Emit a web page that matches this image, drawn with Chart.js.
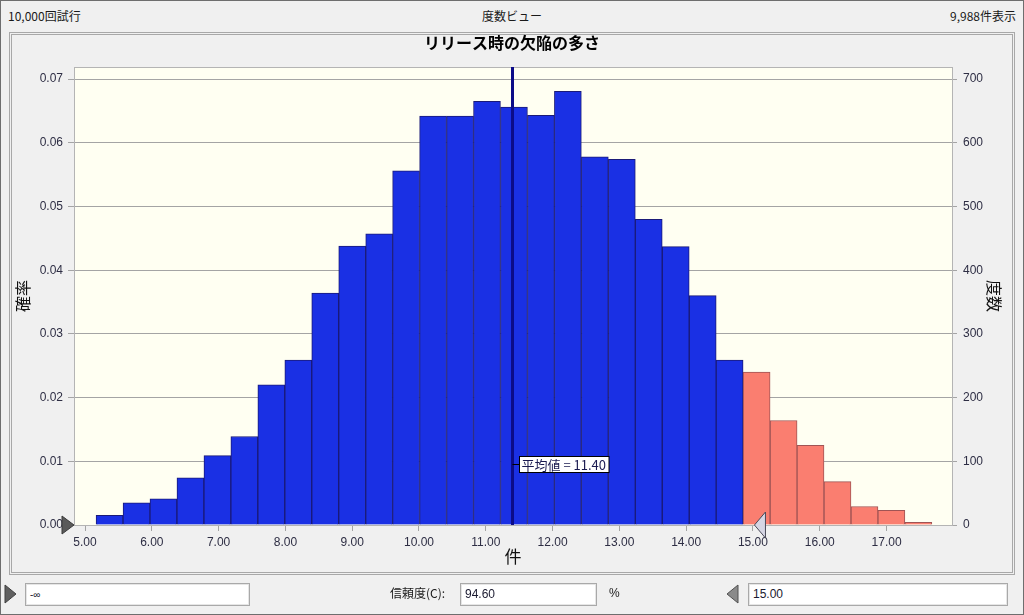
<!DOCTYPE html>
<html><head><meta charset="utf-8">
<script src="https://cdn.jsdelivr.net/npm/chart.js@4.4.1/dist/chart.umd.min.js"></script>
<style>
html,body{margin:0;padding:0;}
body{width:1024px;height:615px;overflow:hidden;background:#f0f0f0;position:relative;font-family:"Noto Sans CJK JP","Noto Sans",sans-serif;color:#1a1a1a;}
#win{position:absolute;left:0;top:0;width:1024px;height:615px;box-sizing:border-box;border:1px solid #6e6e6e;}
.t{position:absolute;font-size:12px;line-height:14px;white-space:nowrap;}
#frame{position:absolute;left:9px;top:32px;width:1006px;height:543px;box-sizing:border-box;border:3px double #a8a8a8;}
canvas{position:absolute;left:0;top:0;}
.box{position:absolute;height:23px;box-sizing:border-box;background:#fff;border:1px solid #a9a9a9;box-shadow:inset 0 0 0 1px #e6e6e6;font-size:12px;line-height:21px;padding-left:4px;font-family:"Liberation Sans",sans-serif;color:#1a1a30;}
svg{position:absolute;}
</style></head>
<body>
<div id="win"></div>
<div class="t" id="tl" style="left:8px;top:9px;"></div>
<div class="t" id="tc" style="left:0;width:1024px;text-align:center;top:9px;"></div>
<div class="t" id="tr" style="right:8px;top:9px;"></div>
<div id="frame"></div>
<canvas id="c" width="1024" height="615"></canvas>
<svg style="left:4px;top:584px" width="14" height="21"><polygon points="1,1 12,10 1,19" fill="#606060" stroke="#404040"/></svg>
<div class="box" id="bLow" style="left:25px;top:583px;width:225px;font-size:10px;"></div>
<div class="t" id="lblC" style="left:390px;top:586px;"></div>
<div class="box" id="bCert" style="left:460px;top:583px;width:137px;"></div>
<div class="t" style="left:609px;top:586px;font-family:'Liberation Sans',sans-serif;">%</div>
<svg style="left:726px;top:584px" width="14" height="21"><polygon points="12,1 1,10 12,19" fill="#8a8a8a" stroke="#505050"/></svg>
<div class="box" id="bHigh" style="left:748px;top:583px;width:260px;"></div>
<script>
// ---- data ----
const chartTitle = 'リリース時の欠陥の多さ';
const trialsText = '10,000回試行';
const viewText = '度数ビュー';
const shownText = '9,988件表示';
const xAxisTitle = '件';
const yLeftTitle = '確率';
const yRightTitle = '度数';
const binCenters = [5.367, 5.771, 6.174, 6.578, 6.982, 7.385, 7.789, 8.193, 8.596, 9.000,
  9.404, 9.807, 10.211, 10.615, 11.018, 11.422, 11.826, 12.229, 12.633, 13.037,
  13.440, 13.844, 14.248, 14.651, 15.055, 15.459, 15.862, 16.266, 16.670, 17.073, 17.477];
const probabilities = [0.0015, 0.0035, 0.0041, 0.0074, 0.0109, 0.0139, 0.0220, 0.0259, 0.0364, 0.0438,
  0.0457, 0.0556, 0.0642, 0.0642, 0.0665, 0.0656, 0.0643, 0.0681, 0.0578, 0.0574,
  0.0480, 0.0437, 0.0360, 0.0259, 0.0240, 0.0164, 0.0125, 0.0068, 0.0029, 0.0023, 0.0004];
const xTicks = [5, 6, 7, 8, 9, 10, 11, 12, 13, 14, 15, 16, 17];
const probTicks = [0, 0.01, 0.02, 0.03, 0.04, 0.05, 0.06, 0.07];
const countTicks = [0, 100, 200, 300, 400, 500, 600, 700];
const meanValue = 11.40;
const lowerBoundText = '-∞';
const upperBound = 15.00;
const certainty = 94.60;
const certaintyLabel = '信頼度(C):';

// ---- chrome text ----
document.getElementById('tl').textContent = trialsText;
document.getElementById('tc').textContent = viewText;
document.getElementById('tr').textContent = shownText;
document.getElementById('bLow').textContent = lowerBoundText;
document.getElementById('lblC').textContent = certaintyLabel;
document.getElementById('bCert').textContent = certainty.toFixed(2);
document.getElementById('bHigh').textContent = upperBound.toFixed(2);

const BLUE = '#1a30e4', BLUE_B = '#1a1a78', RED = '#fa7e70', RED_B = '#a05454';
const tickFont = {family: "'Liberation Sans', sans-serif", size: 12};
const tickColor = '#2e2e44';
const gridColor = '#a4a4a4';
const cjk = "'Noto Sans CJK JP', sans-serif";

const decor = {
  id: 'decor',
  beforeDraw(chart) {
    const {ctx, chartArea: a} = chart;
    ctx.save();
    ctx.fillStyle = '#fffff2';
    ctx.fillRect(a.left, a.top, a.right - a.left, a.bottom - a.top);
    ctx.restore();
  },
  afterDatasetsDraw(chart) {
    const {ctx, chartArea: a, scales} = chart;
    const xs = scales.x, ys = scales.y;
    ctx.save();
    // plot border
    ctx.strokeStyle = '#b4b4b4';
    ctx.lineWidth = 1;
    ctx.strokeRect(Math.round(a.left) + 0.5, Math.round(a.top) + 0.5, Math.round(a.right - a.left), Math.round(a.bottom - a.top));
    // mean line
    const mx = xs.getPixelForValue(meanValue);
    ctx.strokeStyle = '#0c0c88';
    ctx.lineWidth = 3;
    ctx.beginPath(); ctx.moveTo(mx, a.top); ctx.lineTo(mx, a.bottom); ctx.stroke();
    // mean label
    const ly = Math.round(ys.getPixelForValue(0.0095)) + 0.5;
    const label = '平均値 = ' + meanValue.toFixed(2);
    ctx.font = "13px " + cjk;
    const w = ctx.measureText(label).width + 5;
    const bx = Math.round(mx + 7) + 0.5;
    ctx.strokeStyle = '#000'; ctx.lineWidth = 1;
    ctx.beginPath(); ctx.moveTo(mx, ly); ctx.lineTo(bx, ly); ctx.stroke();
    ctx.fillStyle = '#ffffff';
    ctx.fillRect(bx, ly - 8, w, 16);
    ctx.strokeRect(bx, ly - 8, w, 16);
    ctx.fillStyle = '#1a1a50';
    ctx.textBaseline = 'middle';
    ctx.fillText(label, bx + 2, ly + 0.5);
    // left handle
    const by = a.bottom;
    ctx.fillStyle = '#5a5a5a'; ctx.strokeStyle = '#3a3a3a';
    ctx.beginPath(); ctx.moveTo(a.left - 12, by - 9); ctx.lineTo(a.left, by); ctx.lineTo(a.left - 12, by + 9); ctx.closePath();
    ctx.fill(); ctx.stroke();
    // right handle
    const hx = xs.getPixelForValue(upperBound) + 1.5;
    ctx.fillStyle = '#d6d6e4'; ctx.strokeStyle = '#4a4a58';
    ctx.beginPath(); ctx.moveTo(hx + 11, by - 13); ctx.lineTo(hx, by); ctx.lineTo(hx + 11, by + 13); ctx.closePath();
    ctx.fill(); ctx.stroke();
    ctx.restore();
  }
};

new Chart(document.getElementById('c'), {
  type: 'bar',
  data: {
    datasets: [{
      data: binCenters.map((x, i) => ({x: x, y: probabilities[i]})),
      backgroundColor: binCenters.map(x => x >= upperBound ? RED : BLUE),
      borderColor: binCenters.map(x => x >= upperBound ? RED_B : BLUE_B),
      borderWidth: 1,
      barPercentage: 1,
      categoryPercentage: 1,
      yAxisID: 'y'
    }]
  },
  options: {
    responsive: false,
    animation: false,
    devicePixelRatio: 1,
    layout: {padding: 0},
    plugins: {
      legend: {display: false},
      tooltip: {enabled: false},
      title: {display: true, text: chartTitle, color: '#000',
        font: {family: cjk, size: 16, weight: 'bold', lineHeight: 1.2},
        padding: {top: 33.4, bottom: 14.4}}
    },
    scales: {
      x: {
        type: 'linear', min: 4.835, max: 17.98, offset: false,
        afterBuildTicks: s => { s.ticks = xTicks.map(v => ({value: v})); },
        afterFit: s => { s.height = 90; },
        ticks: {callback: v => Number(v).toFixed(2), font: tickFont, color: tickColor, padding: 4, maxRotation: 0, autoSkip: false},
        grid: {offset: false, drawOnChartArea: false, drawTicks: true, tickLength: 6, color: gridColor},
        border: {display: false},
        title: {display: true, text: xAxisTitle, color: '#111', font: {family: cjk, size: 17, lineHeight: 1.2}, padding: {top: 0, bottom: 48}}
      },
      y: {
        type: 'linear', position: 'left', min: 0, max: 0.0719,
        afterBuildTicks: s => { s.ticks = probTicks.map(v => ({value: v})); },
        afterFit: s => { s.width = 74; },
        ticks: {callback: v => Number(v).toFixed(2), font: tickFont, color: tickColor, padding: 5},
        grid: {color: gridColor, tickLength: 6},
        border: {display: false},
        title: {display: true, text: yLeftTitle, color: '#111', font: {family: cjk, size: 16, lineHeight: 1.2}, padding: {top: 13.6, bottom: 0}}
      },
      y2: {
        type: 'linear', position: 'right', min: 0, max: 719,
        afterBuildTicks: s => { s.ticks = countTicks.map(v => ({value: v})); },
        afterFit: s => { s.width = 72; },
        ticks: {callback: v => String(v), font: tickFont, color: tickColor, padding: 6},
        grid: {drawOnChartArea: false, tickLength: 5, color: gridColor},
        border: {display: false},
        title: {display: true, text: yRightTitle, color: '#111', font: {family: cjk, size: 16, lineHeight: 1.2}, padding: {top: 20.6, bottom: 0}}
      }
    }
  },
  plugins: [decor]
});
</script>
</body></html>
